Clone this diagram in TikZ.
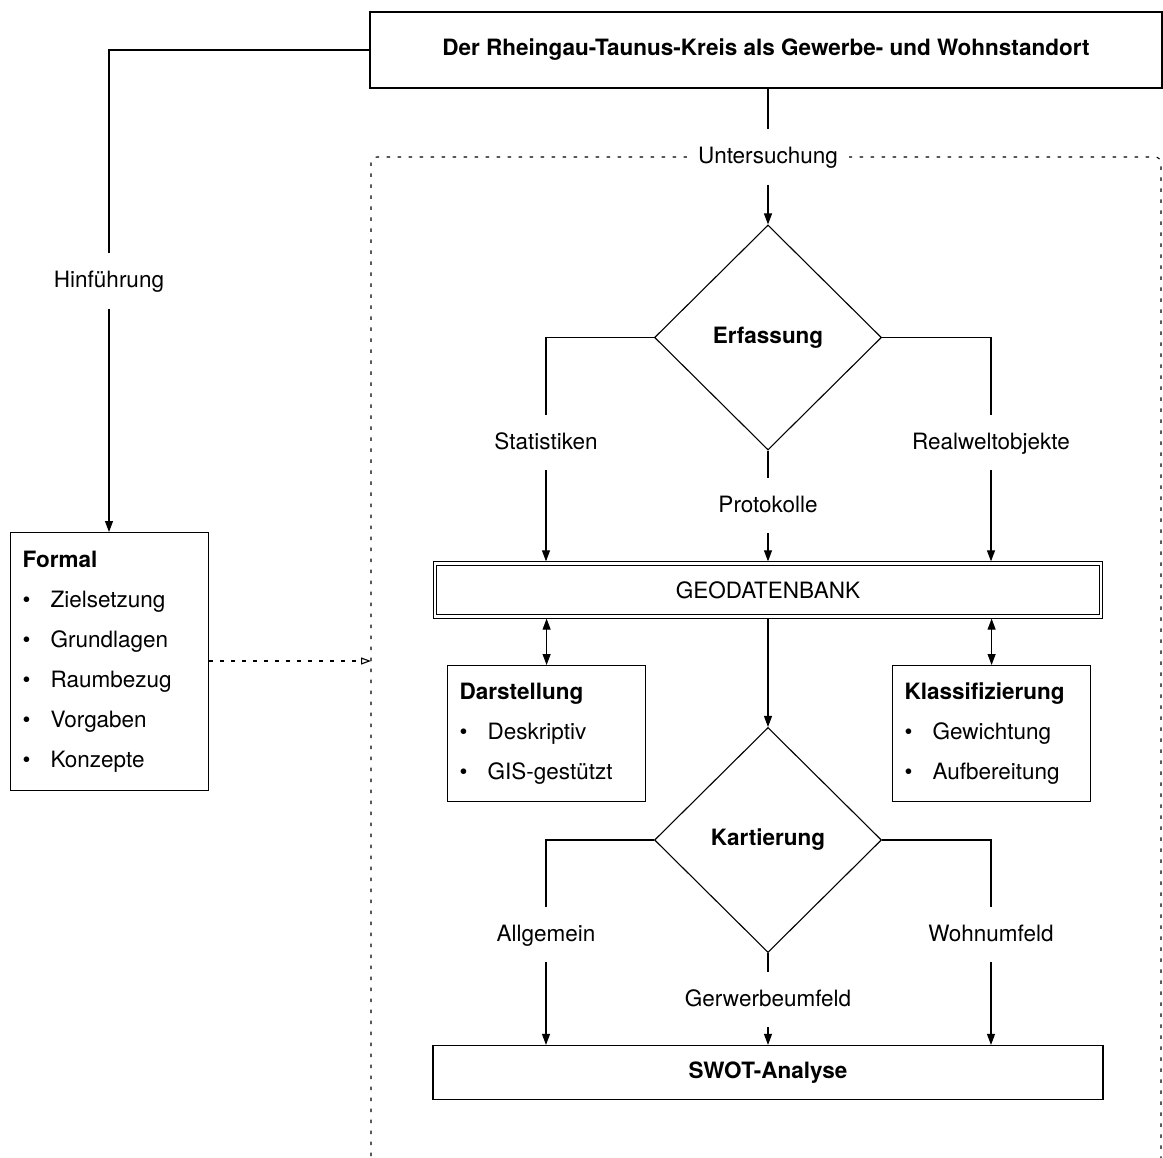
\documentclass[tikz,border=0pt]{standalone}
\usepackage{fontspec}
\setmainfont{TeX Gyre Heros}
\usetikzlibrary{arrows.meta,shapes.geometric}
\newcommand\dgfs{\fontsize{22.5}{40}\selectfont}
\begin{document}
\begin{tikzpicture}[x=1pt,y=-1pt,
  every node/.style={font=\dgfs},
  ln/.style={line width=1.1pt},
  arr/.style={ln,-{Triangle[length=11pt,width=8pt]}},
  darr/.style={ln,{Triangle[length=11pt,width=8pt]}-{Triangle[length=11pt,width=8pt]}},
  dashline/.style={line width=1.1pt,dash pattern=on 3.5pt off 7.5pt},
  lbl/.style={fill=white,inner xsep=11pt,inner ysep=0pt,minimum height=55pt,text height=16pt,text depth=2pt},
  box/.style={draw,line width=1.2pt,rectangle,inner sep=0pt},
  listbox/.style={draw,line width=1.2pt,rectangle,anchor=north west,align=left,text width=174pt,inner xsep=12pt,inner ysep=0pt,minimum width=198pt},
  dia/.style={draw,diamond,aspect=1,inner sep=0pt,minimum width=227pt,minimum height=225pt,line width=1.1pt,font=\dgfs\bfseries},
  blt/.style={}
]
\useasboundingbox (0,0) rectangle (1163,1158);
\clip (0,0) rectangle (1163,1158);

% dashed frame (Untersuchung)
\draw[dashline,rounded corners=6pt] (371,1200) -- (371,157) -- (1161,157) -- (1161,1200);

% nodes
\node[box,minimum width=792pt,minimum height=76pt,font=\dgfs\bfseries] (title) at (766,50)
  {Der Rheingau-Taunus-Kreis als Gewerbe- und Wohnstandort};
\node[lbl] (unt) at (768,157) {Untersuchung};
\node[lbl] (hin) at (109,281) {Hinführung};

\node[listbox,minimum height=258pt] (formal) at (10,532)
  {{\bfseries Formal}\\
   \makebox[28pt][l]{\textbullet}Zielsetzung\\
   \makebox[28pt][l]{\textbullet}Grundlagen\\
   \makebox[28pt][l]{\textbullet}Raumbezug\\
   \makebox[28pt][l]{\textbullet}Vorgaben\\
   \makebox[28pt][l]{\textbullet}Konzepte};

\node[dia] (erf) at (768,337.5) {Erfassung};
\node[lbl] (stat) at (546,442.5) {Statistiken};
\node[lbl] (real) at (991,442.5) {Realweltobjekte};
\node[lbl] (prot) at (768,505.5) {Protokolle};

\node[draw,double,double distance=2.5pt,line width=0.9pt,outer sep=2.15pt,
      minimum width=666pt,minimum height=53pt,inner sep=0pt] (geo) at (768,590) {GEODATENBANK};

\node[listbox,minimum height=136pt] (dar) at (447,665)
  {{\bfseries Darstellung}\\
   \makebox[28pt][l]{\textbullet}Deskriptiv\\
   \makebox[28pt][l]{\textbullet}GIS-gestützt};
\node[listbox,minimum height=136pt] (kla) at (892,665)
  {{\bfseries Klassifizierung}\\
   \makebox[28pt][l]{\textbullet}Gewichtung\\
   \makebox[28pt][l]{\textbullet}Aufbereitung};

\node[dia] (kar) at (768,840) {Kartierung};
\node[lbl] (allg) at (546,934.5) {Allgemein};
\node[lbl] (wohn) at (991,934.5) {Wohnumfeld};
\node[lbl] (gew) at (768,999.5) {Gerwerbeumfeld};

\node[box,minimum width=670pt,minimum height=54pt,font=\dgfs\bfseries] (swot) at (768,1072.5) {SWOT-Analyse};

\coordinate (dashin) at (371,661);

% connectors
\draw[ln] (unt.north |- title.south) -- (unt.north);
\draw[arr] (unt.south) -- (erf.north);
\draw[ln] (title.west) -| (hin.north);
\draw[arr] (hin.south) -- (hin.south |- formal.north);
\draw[dashline,-{Triangle[open,length=10pt,width=7pt]}] (formal.east |- dashin) -- (dashin);

\draw[ln] (erf.west) -| (stat.north);
\draw[arr] (stat.south) -- (stat.south |- geo.north);
\draw[ln] (erf.east) -| (real.north);
\draw[arr] (real.south) -- (real.south |- geo.north);
\draw[ln] (erf.south) -- (prot.north);
\draw[arr] (prot.south) -- (geo.north -| prot.south);

\draw[darr] (geo.south -| dar.north) -- (dar.north);
\draw[darr] (geo.south -| kla.north) -- (kla.north);
\draw[arr] (geo.south) -- (kar.north);

\draw[ln] (kar.west) -| (allg.north);
\draw[arr] (allg.south) -- (allg.south |- swot.north);
\draw[ln] (kar.east) -| (wohn.north);
\draw[arr] (wohn.south) -- (wohn.south |- swot.north);
\draw[ln] (kar.south) -- (gew.north);
\draw[arr] (gew.south) -- (swot.north -| gew.south);
\end{tikzpicture}
\end{document}
